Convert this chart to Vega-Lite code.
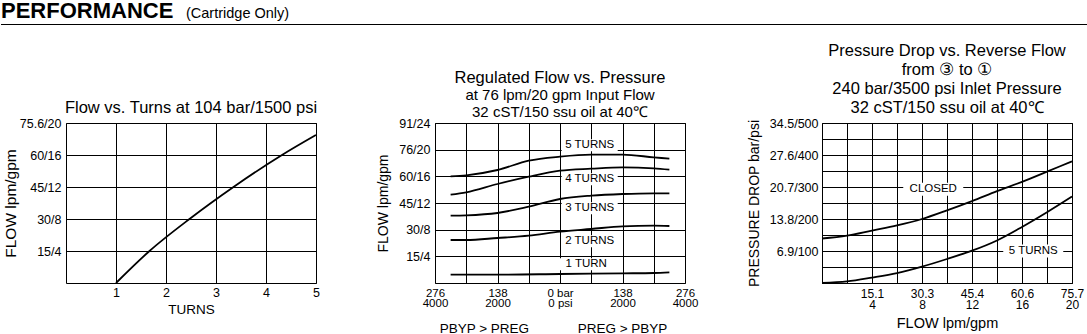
{
  "$schema": "https://vega.github.io/schema/vega-lite/v6.json",
  "padding": 0,
  "autosize": {"type": "pad"},
  "background": "white",
  "spacing": 16,
  "bounds": "full",
  "config": {
    "font": "Liberation Sans",
    "view": {"stroke": "black", "strokeWidth": 1},
    "axis": {
      "grid": true, "gridColor": "black", "gridOpacity": 1, "gridWidth": 1,
      "domain": false, "ticks": false,
      "labelColor": "black", "labelFontSize": 12.5, "labelFont": "Liberation Sans",
      "labelOverlap": false, "labelFlush": false, "labelBound": false,
      "titleColor": "black", "titleFontWeight": "normal", "titleFont": "Liberation Sans", "titleFontSize": 14
    },
    "title": {"font": "Liberation Sans", "fontSize": 16.5, "fontWeight": "normal", "color": "black", "subtitleColor": "black", "subtitleFont": "Liberation Sans"}
  },
  "vconcat": [
    {
      "width": 1022,
      "height": 25,
      "view": {"stroke": null},
      "data": {"values": [{"title": "PERFORMANCE", "note": "(Cartridge Only)"}]},
      "layer": [
        {"mark": {"type": "text", "align": "left", "baseline": "alphabetic", "fontSize": 22, "fontWeight": "bold", "color": "black"},
         "encoding": {"text": {"field": "title"}, "x": {"value": -65}, "y": {"value": 18.3}}},
        {"mark": {"type": "text", "align": "left", "baseline": "alphabetic", "fontSize": 14.5, "color": "black"},
         "encoding": {"text": {"field": "note"}, "x": {"value": 120}, "y": {"value": 17.7}}},
        {"mark": {"type": "rule", "color": "black", "strokeWidth": 1.2},
         "encoding": {"x": {"value": -65}, "x2": {"value": 1022}, "y": {"value": 24.5}}}
      ]
    },
    {
      "bounds": "flush",
      "spacing": 119,
      "hconcat": [
        {
          "width": 250, "height": 160,
          "title": {"text": "Flow vs. Turns at 104 bar/1500 psi", "offset": 0.5},
          "data": {"values": [
            {"turns": 1, "flow": 0}, {"turns": 1.67, "flow": 4}, {"turns": 2.47, "flow": 8},
            {"turns": 3.35, "flow": 12}, {"turns": 4.32, "flow": 16}, {"turns": 5, "flow": 18.5}
          ]},
          "mark": {"type": "line", "color": "black", "strokeWidth": 1.8, "interpolate": "monotone"},
          "encoding": {
            "x": {"field": "turns", "type": "quantitative", "scale": {"domain": [0, 5], "nice": false},
                  "axis": {"values": [1, 2, 3, 4, 5], "title": "TURNS", "titleFontSize": 13.5, "labelPadding": 3, "titlePadding": 4}},
            "y": {"field": "flow", "type": "quantitative", "scale": {"domain": [0, 20], "nice": false},
                  "axis": {"values": [4, 8, 12, 16, 20], "title": "FLOW lpm/gpm", "titleFontSize": 15.5, "labelPadding": 5, "titlePadding": 1,
                           "labelExpr": "datum.value == 4 ? '15/4' : datum.value == 8 ? '30/8' : datum.value == 12 ? '45/12' : datum.value == 16 ? '60/16' : '75.6/20'"}}
          }
        },
        {
          "bounds": "flush",
          "spacing": 137,
          "hconcat": [
            {
              "width": 250, "height": 160,
              "title": {"text": "Regulated Flow vs. Pressure", "subtitle": ["at 76 lpm/20 gpm Input Flow", "32 cST/150 ssu oil at 40℃"],
                        "subtitleFontSize": 15, "subtitleLineHeight": 17, "subtitlePadding": 2, "offset": -3},
              "encoding": {
                "x": {"field": "psi", "type": "quantitative", "scale": {"domain": [-4000, 4000], "nice": false, "zero": false},
                      "axis": {"values": [-4000, -3000, -2000, -1000, 0, 1000, 2000, 3000, 4000], "title": null, "labelFontSize": 11.5, "labelLineHeight": 10.5, "labelPadding": 4,
                               "labelExpr": "abs(datum.value) == 4000 ? ['276', '4000'] : abs(datum.value) == 2000 ? ['138', '2000'] : datum.value == 0 ? ['0 bar', '0 psi'] : ''"}},
                "y": {"field": "gpm", "type": "quantitative", "scale": {"domain": [0, 24], "nice": false},
                      "axis": {"values": [4, 8, 12, 16, 20, 24], "title": "FLOW lpm/gpm", "titleFontSize": 14, "labelPadding": 5, "titlePadding": 8,
                               "labelExpr": "datum.value == 4 ? '15/4' : datum.value == 8 ? '30/8' : datum.value == 12 ? '45/12' : datum.value == 16 ? '60/16' : datum.value == 20 ? '76/20' : '91/24'"}}
              },
              "layer": [
                {"data": {"values": [{"psi": 0}]},
                 "mark": {"type": "rule", "color": "black", "strokeWidth": 2},
                 "encoding": {"y": {"datum": 0}, "y2": {"datum": 24}}},
                {"data": {"values": [
                  {"series": "5 TURNS", "psi": -3500, "gpm": 16.0}, {"series": "5 TURNS", "psi": -3000, "gpm": 16.15}, {"series": "5 TURNS", "psi": -2000, "gpm": 16.95},
                  {"series": "5 TURNS", "psi": -1000, "gpm": 18.35}, {"series": "5 TURNS", "psi": 0, "gpm": 18.95}, {"series": "5 TURNS", "psi": 1000, "gpm": 19.25},
                  {"series": "5 TURNS", "psi": 2000, "gpm": 19.25}, {"series": "5 TURNS", "psi": 3000, "gpm": 18.85}, {"series": "5 TURNS", "psi": 3500, "gpm": 18.65},
                  {"series": "4 TURNS", "psi": -3500, "gpm": 13.25}, {"series": "4 TURNS", "psi": -3000, "gpm": 13.6}, {"series": "4 TURNS", "psi": -2000, "gpm": 14.85},
                  {"series": "4 TURNS", "psi": -1000, "gpm": 15.95}, {"series": "4 TURNS", "psi": 0, "gpm": 16.85}, {"series": "4 TURNS", "psi": 1000, "gpm": 17.15},
                  {"series": "4 TURNS", "psi": 2000, "gpm": 17.35}, {"series": "4 TURNS", "psi": 3000, "gpm": 17.2}, {"series": "4 TURNS", "psi": 3500, "gpm": 17.0},
                  {"series": "3 TURNS", "psi": -3500, "gpm": 10.1}, {"series": "3 TURNS", "psi": -3000, "gpm": 10.15}, {"series": "3 TURNS", "psi": -2000, "gpm": 10.5},
                  {"series": "3 TURNS", "psi": -1000, "gpm": 11.45}, {"series": "3 TURNS", "psi": 0, "gpm": 12.6}, {"series": "3 TURNS", "psi": 1000, "gpm": 13.1},
                  {"series": "3 TURNS", "psi": 2000, "gpm": 13.35}, {"series": "3 TURNS", "psi": 3000, "gpm": 13.45}, {"series": "3 TURNS", "psi": 3500, "gpm": 13.45},
                  {"series": "2 TURNS", "psi": -3500, "gpm": 6.45}, {"series": "2 TURNS", "psi": -3000, "gpm": 6.45}, {"series": "2 TURNS", "psi": -2000, "gpm": 6.75},
                  {"series": "2 TURNS", "psi": -1000, "gpm": 7.1}, {"series": "2 TURNS", "psi": 0, "gpm": 7.7}, {"series": "2 TURNS", "psi": 1000, "gpm": 8.1},
                  {"series": "2 TURNS", "psi": 2000, "gpm": 8.5}, {"series": "2 TURNS", "psi": 3000, "gpm": 8.6}, {"series": "2 TURNS", "psi": 3500, "gpm": 8.55},
                  {"series": "1 TURN", "psi": -3500, "gpm": 1.25}, {"series": "1 TURN", "psi": -2000, "gpm": 1.25}, {"series": "1 TURN", "psi": 0, "gpm": 1.35},
                  {"series": "1 TURN", "psi": 2000, "gpm": 1.45}, {"series": "1 TURN", "psi": 3000, "gpm": 1.5}, {"series": "1 TURN", "psi": 3500, "gpm": 1.6}
                 ]},
                 "mark": {"type": "line", "color": "black", "strokeWidth": 1.8, "interpolate": "monotone"},
                 "encoding": {"detail": {"field": "series"}}},
                {"data": {"values": [
                  {"label": "5 TURNS", "psi": 950, "gpm": 20.65}, {"label": "4 TURNS", "psi": 950, "gpm": 15.55},
                  {"label": "3 TURNS", "psi": 950, "gpm": 11.2}, {"label": "2 TURNS", "psi": 950, "gpm": 6.25},
                  {"label": "1 TURN", "psi": 840, "gpm": 2.8}
                 ]},
                 "layer": [
                   {"mark": {"type": "point", "shape": "M-1,-0.214L1,-0.214L1,0.214L-1,0.214Z", "filled": true, "fill": "white", "strokeWidth": 0, "opacity": 1, "size": 3136}},
                   {"mark": {"type": "text", "fontSize": 11.5, "color": "black", "align": "center", "baseline": "middle"},
                    "encoding": {"text": {"field": "label"}}}
                 ]},
                {"data": {"values": [
                  {"label": "PBYP > PREG", "psi": -2420, "gpm": -6.9}, {"label": "PREG > PBYP", "psi": 2000, "gpm": -6.9}
                 ]},
                 "mark": {"type": "text", "fontSize": 13.5, "color": "black", "align": "center", "baseline": "middle"},
                 "encoding": {"text": {"field": "label"}}}
              ]
            },
            {
              "width": 250, "height": 160,
              "title": {"text": ["Pressure Drop vs. Reverse Flow", "from ③ to ①", "240 bar/3500 psi Inlet Pressure", "32 cST/150 ssu oil at 40℃"],
                        "lineHeight": 19, "offset": 0.5},
              "encoding": {
                "x": {"field": "gpm", "type": "quantitative", "scale": {"domain": [0, 20], "nice": false},
                      "axis": {"values": [0, 2, 4, 6, 8, 10, 12, 14, 16, 18, 20], "title": "FLOW lpm/gpm", "titleFontSize": 14.5, "labelFontSize": 12, "labelLineHeight": 11, "labelPadding": 5, "titlePadding": 6,
                               "labelExpr": "datum.value == 4 ? ['15.1', '4'] : datum.value == 8 ? ['30.3', '8'] : datum.value == 12 ? ['45.4', '12'] : datum.value == 16 ? ['60.6', '16'] : datum.value == 20 ? ['75.7', '20'] : ''"}},
                "y": {"field": "psi", "type": "quantitative", "scale": {"domain": [0, 500], "nice": false},
                      "axis": {"values": [0, 50, 100, 150, 200, 250, 300, 350, 400, 450, 500], "title": "PRESSURE DROP bar/psi", "titleFontSize": 14, "labelPadding": 4, "titlePadding": 8,
                               "labelExpr": "datum.value == 100 ? '6.9/100' : datum.value == 200 ? '13.8/200' : datum.value == 300 ? '20.7/300' : datum.value == 400 ? '27.6/400' : datum.value == 500 ? '34.5/500' : ''"}}
              },
              "layer": [
                {"data": {"values": [
                  {"series": "CLOSED", "gpm": 0, "psi": 139}, {"series": "CLOSED", "gpm": 2, "psi": 148}, {"series": "CLOSED", "gpm": 4, "psi": 164},
                  {"series": "CLOSED", "gpm": 6, "psi": 180}, {"series": "CLOSED", "gpm": 8, "psi": 200}, {"series": "CLOSED", "gpm": 10, "psi": 227},
                  {"series": "CLOSED", "gpm": 12, "psi": 256}, {"series": "CLOSED", "gpm": 14, "psi": 287}, {"series": "CLOSED", "gpm": 16, "psi": 316},
                  {"series": "CLOSED", "gpm": 18, "psi": 348}, {"series": "CLOSED", "gpm": 20, "psi": 380},
                  {"series": "5 TURNS", "gpm": 0, "psi": 0}, {"series": "5 TURNS", "gpm": 2, "psi": 5}, {"series": "5 TURNS", "gpm": 4, "psi": 17},
                  {"series": "5 TURNS", "gpm": 6, "psi": 31}, {"series": "5 TURNS", "gpm": 8, "psi": 51}, {"series": "5 TURNS", "gpm": 10, "psi": 75},
                  {"series": "5 TURNS", "gpm": 12, "psi": 101}, {"series": "5 TURNS", "gpm": 14, "psi": 133}, {"series": "5 TURNS", "gpm": 16, "psi": 175},
                  {"series": "5 TURNS", "gpm": 18, "psi": 221}, {"series": "5 TURNS", "gpm": 20, "psi": 270}
                 ]},
                 "mark": {"type": "line", "color": "black", "strokeWidth": 1.8, "interpolate": "monotone"},
                 "encoding": {"detail": {"field": "series"}}},
                {"data": {"values": [
                  {"label": "CLOSED", "gpm": 8.9, "psi": 293}, {"label": "5 TURNS", "gpm": 16.9, "psi": 100}
                 ]},
                 "layer": [
                   {"mark": {"type": "point", "shape": "M-1,-0.214L1,-0.214L1,0.214L-1,0.214Z", "filled": true, "fill": "white", "strokeWidth": 0, "opacity": 1, "size": 3600}},
                   {"mark": {"type": "text", "fontSize": 11.5, "color": "black", "align": "center", "baseline": "middle"},
                    "encoding": {"text": {"field": "label"}}}
                 ]}
              ]
            }
          ]
        }
      ]
    }
  ]
}
